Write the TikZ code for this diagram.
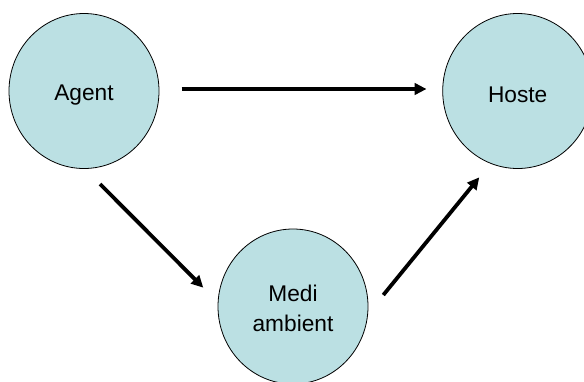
\documentclass[tikz,border=0pt]{standalone}
\usepackage{fontspec}
\setmainfont{Liberation Sans}
\usetikzlibrary{shapes.geometric,arrows.meta}
\definecolor{bubble}{HTML}{BBE0E3}
\tikzset{
  bubble/.style={ellipse, draw=black, line width=0.8pt, fill=bubble,
    minimum width=150pt, minimum height=155pt, inner sep=0pt,
    align=center, font=\fontsize{22.7}{30}\selectfont,
    text height=18.2pt, text depth=0pt},
  link/.style={line width=3.8pt, -{Triangle[length=12pt,width=11.5pt]}}
}
\begin{document}
\begin{tikzpicture}[x=1pt,y=-1pt]
  \useasboundingbox (0,0) rectangle (584,381);
  % the three factors
  \node[bubble] (agent) at (84,91) {Agent};
  \node[bubble, text height=23pt] (hoste) at (517.7,91) {Hoste};
  \node[bubble, text height=50.3pt] (medi) at (293,306.5) {Medi\\ambient};
  % arrow ends, set off from the ellipses
  \coordinate (agentE) at (181.7,89);
  \coordinate (hosteW) at (426.5,89);
  \coordinate (agentS) at (100,184);
  \coordinate (mediNW) at (203.3,287.7);
  \coordinate (mediNE) at (383.3,295);
  \coordinate (hosteS) at (479.3,177.3);
  \draw[link] (agentE) -- (hosteW);
  \draw[link] (agentS) -- (mediNW);
  \draw[link] (mediNE) -- (hosteS);
\end{tikzpicture}
\end{document}
